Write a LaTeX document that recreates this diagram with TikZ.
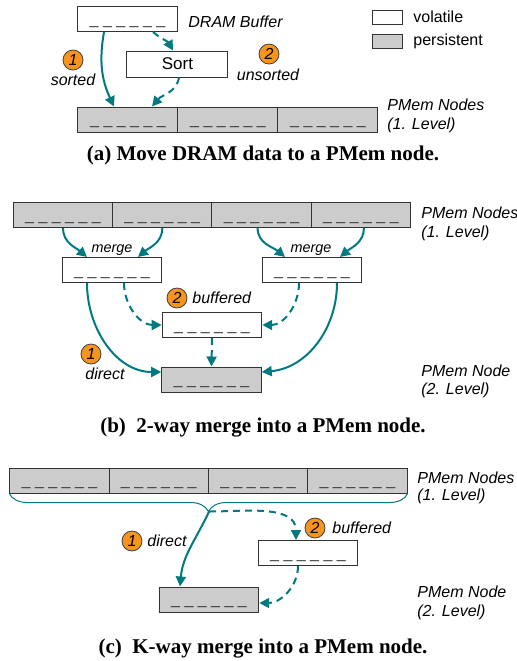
\documentclass[tikz,border=0pt]{standalone}
\usepackage{fontspec}
\setmainfont{Liberation Serif}
\setsansfont{Liberation Sans}
\usepackage{xcolor}
\usetikzlibrary{arrows.meta,decorations.pathreplacing}

\definecolor{flowteal}{RGB}{0,122,128}
\definecolor{badgeorange}{RGB}{247,148,29}
\definecolor{persgray}{RGB}{204,204,204}

\newcommand{\dashline}{\_ \_ \_ \_ \_ \_}

\tikzset{
    cellbox/.style={draw=black!80, line width=0.5pt, minimum width=49.75pt,
        minimum height=12.5pt, inner sep=0pt, text height=5pt, text depth=0pt,
        text=black!80, font=\sffamily\fontsize{8}{9}\selectfont},
    volbox/.style={cellbox, fill=white},
    persbox/.style={cellbox, fill=persgray},
    lbl/.style={font=\sffamily\itshape\fontsize{8}{9.5}\selectfont, inner sep=0pt},
    badge/.style={circle, draw=black!75, fill=badgeorange, minimum size=10pt,
        inner sep=0pt, text=black, font=\sffamily\itshape\fontsize{8}{8}\selectfont},
    flow/.style={draw=flowteal, line width=1pt, -{Triangle[length=5pt,width=5pt]}},
    flowdash/.style={flow, dash pattern=on 3.5pt off 2.5pt},
    capt/.style={font=\bfseries\fontsize{10.5}{12}\selectfont, inner sep=0pt}
}

\begin{document}
\begin{tikzpicture}[x=0.5pt, y=0.5pt]
    \useasboundingbox (0,0) rectangle (517,-661);

    % (a)
    \node[volbox] (dram) at (127.5,-19) {\dashline};
    \node[lbl, anchor=west] (dramlbl) at (188,-22) {DRAM Buffer};
    \node[volbox, minimum width=15pt, minimum height=7pt, text height=0pt] (legvol) at (388,-17) {};
    \node[lbl, font=\sffamily\fontsize{8}{9.5}\selectfont, anchor=west] (legvoltxt) at (413,-17) {volatile};
    \node[persbox, minimum width=15pt, minimum height=7pt, text height=0pt] (legpers) at (388,-41) {};
    \node[lbl, font=\sffamily\fontsize{8}{9.5}\selectfont, anchor=west] (legperstxt) at (413,-41) {persistent};
    \node[volbox, minimum width=50.5pt, minimum height=13pt, text=black,
        font=\sffamily\fontsize{8.5}{9}\selectfont] (sort) at (177.5,-64) {Sort};
    \foreach \i in {0,1,2}
        \node[persbox, minimum width=50pt] (a\i) at (128+100*\i,-119.5) {\dashline};
    \node[badge] (abadge1) at (73,-60) {1};
    \node[lbl] (sortedlbl) at (73,-80) {sorted};
    \node[badge] (abadge2) at (269,-54) {2};
    \node[lbl] (unsortedlbl) at (268,-75) {unsorted};
    \node[lbl, anchor=west] (alevel1) at (387,-105) {PMem Nodes};
    \node[lbl, anchor=west] (alevel1b) at (387,-125) {(1. Level)};

    \draw[flow] ([xshift=-11.75pt]dram.south) to[out=-100,in=115] ([xshift=-7pt]a0.north);
    \draw[flowdash] ([xshift=12.75pt]dram.south) to[out=-40,in=120] ([xshift=-2.25pt]sort.north);
    \draw[flowdash] ([xshift=0.75pt]sort.south) to[out=-100,in=50] ([xshift=12pt]a0.north);

    \node[capt] (capta) at (263,-155) {(a) Move DRAM data to a PMem node.};

    % (b)
    \foreach \i in {0,...,3}
        \node[persbox] (b\i) at (63+99.3*\i,-215) {\dashline};
    \node[volbox] (mergeL) at (112,-270) {\dashline};
    \node[volbox] (mergeR) at (312,-270) {\dashline};
    \node[volbox] (bufb) at (212,-325) {\dashline};
    \node[persbox] (pmemb) at (211.5,-379.5) {\dashline};
    \node[lbl, font=\sffamily\itshape\fontsize{7.2}{8}\selectfont] (mergeLlbl) at (112,-250) {merge};
    \node[lbl, font=\sffamily\itshape\fontsize{7.2}{8}\selectfont] (mergeRlbl) at (311,-250) {merge};
    \node[badge] (bbadge2) at (177,-298) {2};
    \node[lbl, anchor=west] (bbuflbl) at (192,-298) {buffered};
    \node[badge] (bbadge1) at (91,-354) {1};
    \node[lbl] (bdirlbl) at (105,-374) {direct};
    \node[lbl, anchor=west] (blevel1) at (421,-213) {PMem Nodes};
    \node[lbl, anchor=west] (blevel1b) at (421,-233) {(1. Level)};
    \node[lbl, anchor=west] (blevel2) at (421,-371) {PMem Node};
    \node[lbl, anchor=west] (blevel2b) at (421,-390) {(2. Level)};

    \draw[flow] (b0.south) to[out=-90,in=140] ([xshift=-12.5pt]mergeL.north);
    \draw[flow] (b1.south) to[out=-90,in=40] ([xshift=13pt]mergeL.north);
    \draw[flow] ([xshift=-2pt]b2.south) to[out=-90,in=140] ([xshift=-13.5pt]mergeR.north);
    \draw[flow] ([xshift=1.5pt]b3.south) to[out=-90,in=40] ([xshift=14pt]mergeR.north);
    \draw[flow] ([xshift=-12.5pt]mergeL.south) to[out=-90,in=180] ([yshift=3.75pt]pmemb.west);
    \draw[flow] ([xshift=12.5pt]mergeR.south) to[out=-90,in=5] ([yshift=3.75pt]pmemb.east);
    \draw[flowdash] ([xshift=6pt]mergeL.south) to[out=-90,in=180] (bufb.west);
    \draw[flowdash] ([xshift=-6.5pt]mergeR.south) to[out=-90,in=0] (bufb.east);
    \draw[flowdash] (bufb.south) -- (pmemb.north);

    \node[capt] (captb) at (263,-428) {(b)~~2-way merge into a PMem node.};

    % (c)
    \foreach \i in {0,...,3}
        \node[persbox] (c\i) at (59.5+99.3*\i,-480.5) {\dashline};
    \draw[flowteal, line width=0.5pt, decorate, decoration={brace, mirror, amplitude=9pt}]
        (c0.south west) -- (c3.south east);
    \coordinate (ctip) at ([yshift=-9pt]c1.south east);
    \node[volbox] (bufc) at (308,-553) {\dashline};
    \node[persbox] (pmemc) at (209,-599.5) {\dashline};
    \node[badge] (cbadge2) at (315,-528) {2};
    \node[lbl, anchor=west] (cbuflbl) at (332,-528) {buffered};
    \node[badge] (cbadge1) at (132,-541) {1};
    \node[lbl, anchor=west] (cdirlbl) at (147,-541) {direct};
    \node[lbl, anchor=west] (clevel1) at (417,-478) {PMem Nodes};
    \node[lbl, anchor=west] (clevel1b) at (417,-496) {(1. Level)};
    \node[lbl, anchor=west] (clevel2) at (417,-592) {PMem Node};
    \node[lbl, anchor=west] (clevel2b) at (417,-612) {(2. Level)};

    \draw[flow] (ctip) to[out=-115,in=85] ([xshift=-14.5pt]pmemc.north);
    \draw[flowdash] (ctip) to[out=0,in=90] ([xshift=-6pt]bufc.north);
    \draw[flowdash] ([xshift=-5pt]bufc.south) to[out=-90,in=0] ([yshift=-1.75pt]pmemc.east);

    \node[capt] (captc) at (263,-649) {(c)~~K-way merge into a PMem node.};
\end{tikzpicture}
\end{document}
